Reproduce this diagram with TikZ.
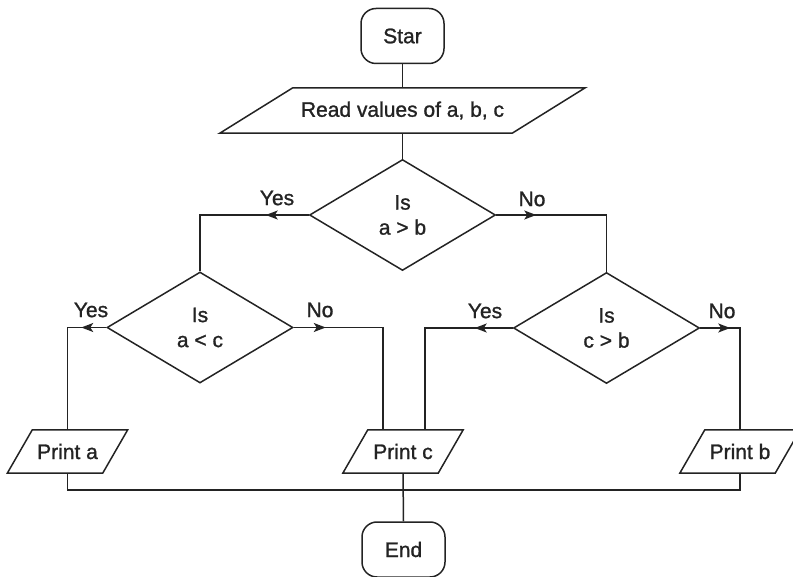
\documentclass[tikz,border=0pt]{standalone}
\usepackage{fontspec}
\setmainfont{Liberation Sans}[FakeBold=1.2]
\usetikzlibrary{shapes.geometric,arrows.meta,decorations.markings}
\definecolor{ink}{RGB}{35,35,35}
\begin{document}
\begin{tikzpicture}[x=1pt,y=-1pt,
  line/.style={line width=1.5pt, draw=ink},
  terminal/.style={line, rounded corners=15pt, minimum width=83pt, minimum height=55pt, inner sep=0pt},
  iobox/.style={inner sep=0pt, minimum width=95pt, minimum height=43pt},
  decision/.style={line, diamond, minimum width=186pt, minimum height=111pt, inner sep=0pt, align=center},
  lbl/.style={inner sep=0pt, text=ink},
  flow/.style={line, postaction={decorate}, decoration={markings,
      mark=at position #1 with {\arrow[ink]{Stealth[length=12pt,width=9pt,inset=3pt]}}}},
  font=\fontsize{21}{25}\selectfont, text=ink
]
\clip (0,0) rectangle (793,577);

% terminals
\node[terminal] (start) at (402.5,36) {Star};
\node[terminal] (stop) at (403.5,549.5) {End};

% input / output boxes (outline drawn below as parallelograms)
\node[iobox, minimum width=292pt, minimum height=45pt] (read) at (402.5,110.5) {Read values of a, b, c};
\node[iobox] (pa) at (67.5,451.5) {Print a};
\node[iobox] (pc) at (403,451.5) {Print c};
\node[iobox] (pb) at (740,451.5) {Print b};
\foreach \n/\s in {read/36.5, pa/12.5, pc/12.5, pb/12.5}
  \draw[line] ([xshift=\s pt]\n.north west) -- ([xshift=\s pt]\n.north east)
    -- ([xshift=-\s pt]\n.south east) -- ([xshift=-\s pt]\n.south west) -- cycle;

% decisions
\node[decision] (d1) at (402.5,215) {Is\\a > b};
\node[decision] (d2) at (200,327.5) {Is\\a < c};
\node[decision] (d3) at (606.5,328) {Is\\c > b};

% branch labels
\node[lbl] (y1) at (277,198) {Yes};
\node[lbl] (n1) at (532,199) {No};
\node[lbl] (y2) at (91,310) {Yes};
\node[lbl] (n2) at (320,310) {No};
\node[lbl] (y3) at (485,311) {Yes};
\node[lbl] (n3) at (722,311) {No};

% connectors
\draw[line] (start) -- (read);
\draw[line] (read.south) -- (d1.north);
\draw[flow=43pt] (d1.west) -| (d2.north);
\draw[flow=40pt] (d1.east) -| (d3.north);
\draw[flow=25pt] (d2.west) -| (pa.north);
\draw[flow=32pt] (d2.east) -| ([xshift=-20pt]pc.north);
\draw[flow=38pt] (d3.west) -| ([xshift=22pt]pc.north);
\draw[flow=30pt] (d3.east) -| (pb.north);

\coordinate (bus) at (403,490);
\draw[line] (pa.south) |- (bus) -| (pb.south);
\draw[line] (pc.south) -- (stop.north);
\end{tikzpicture}
\end{document}
